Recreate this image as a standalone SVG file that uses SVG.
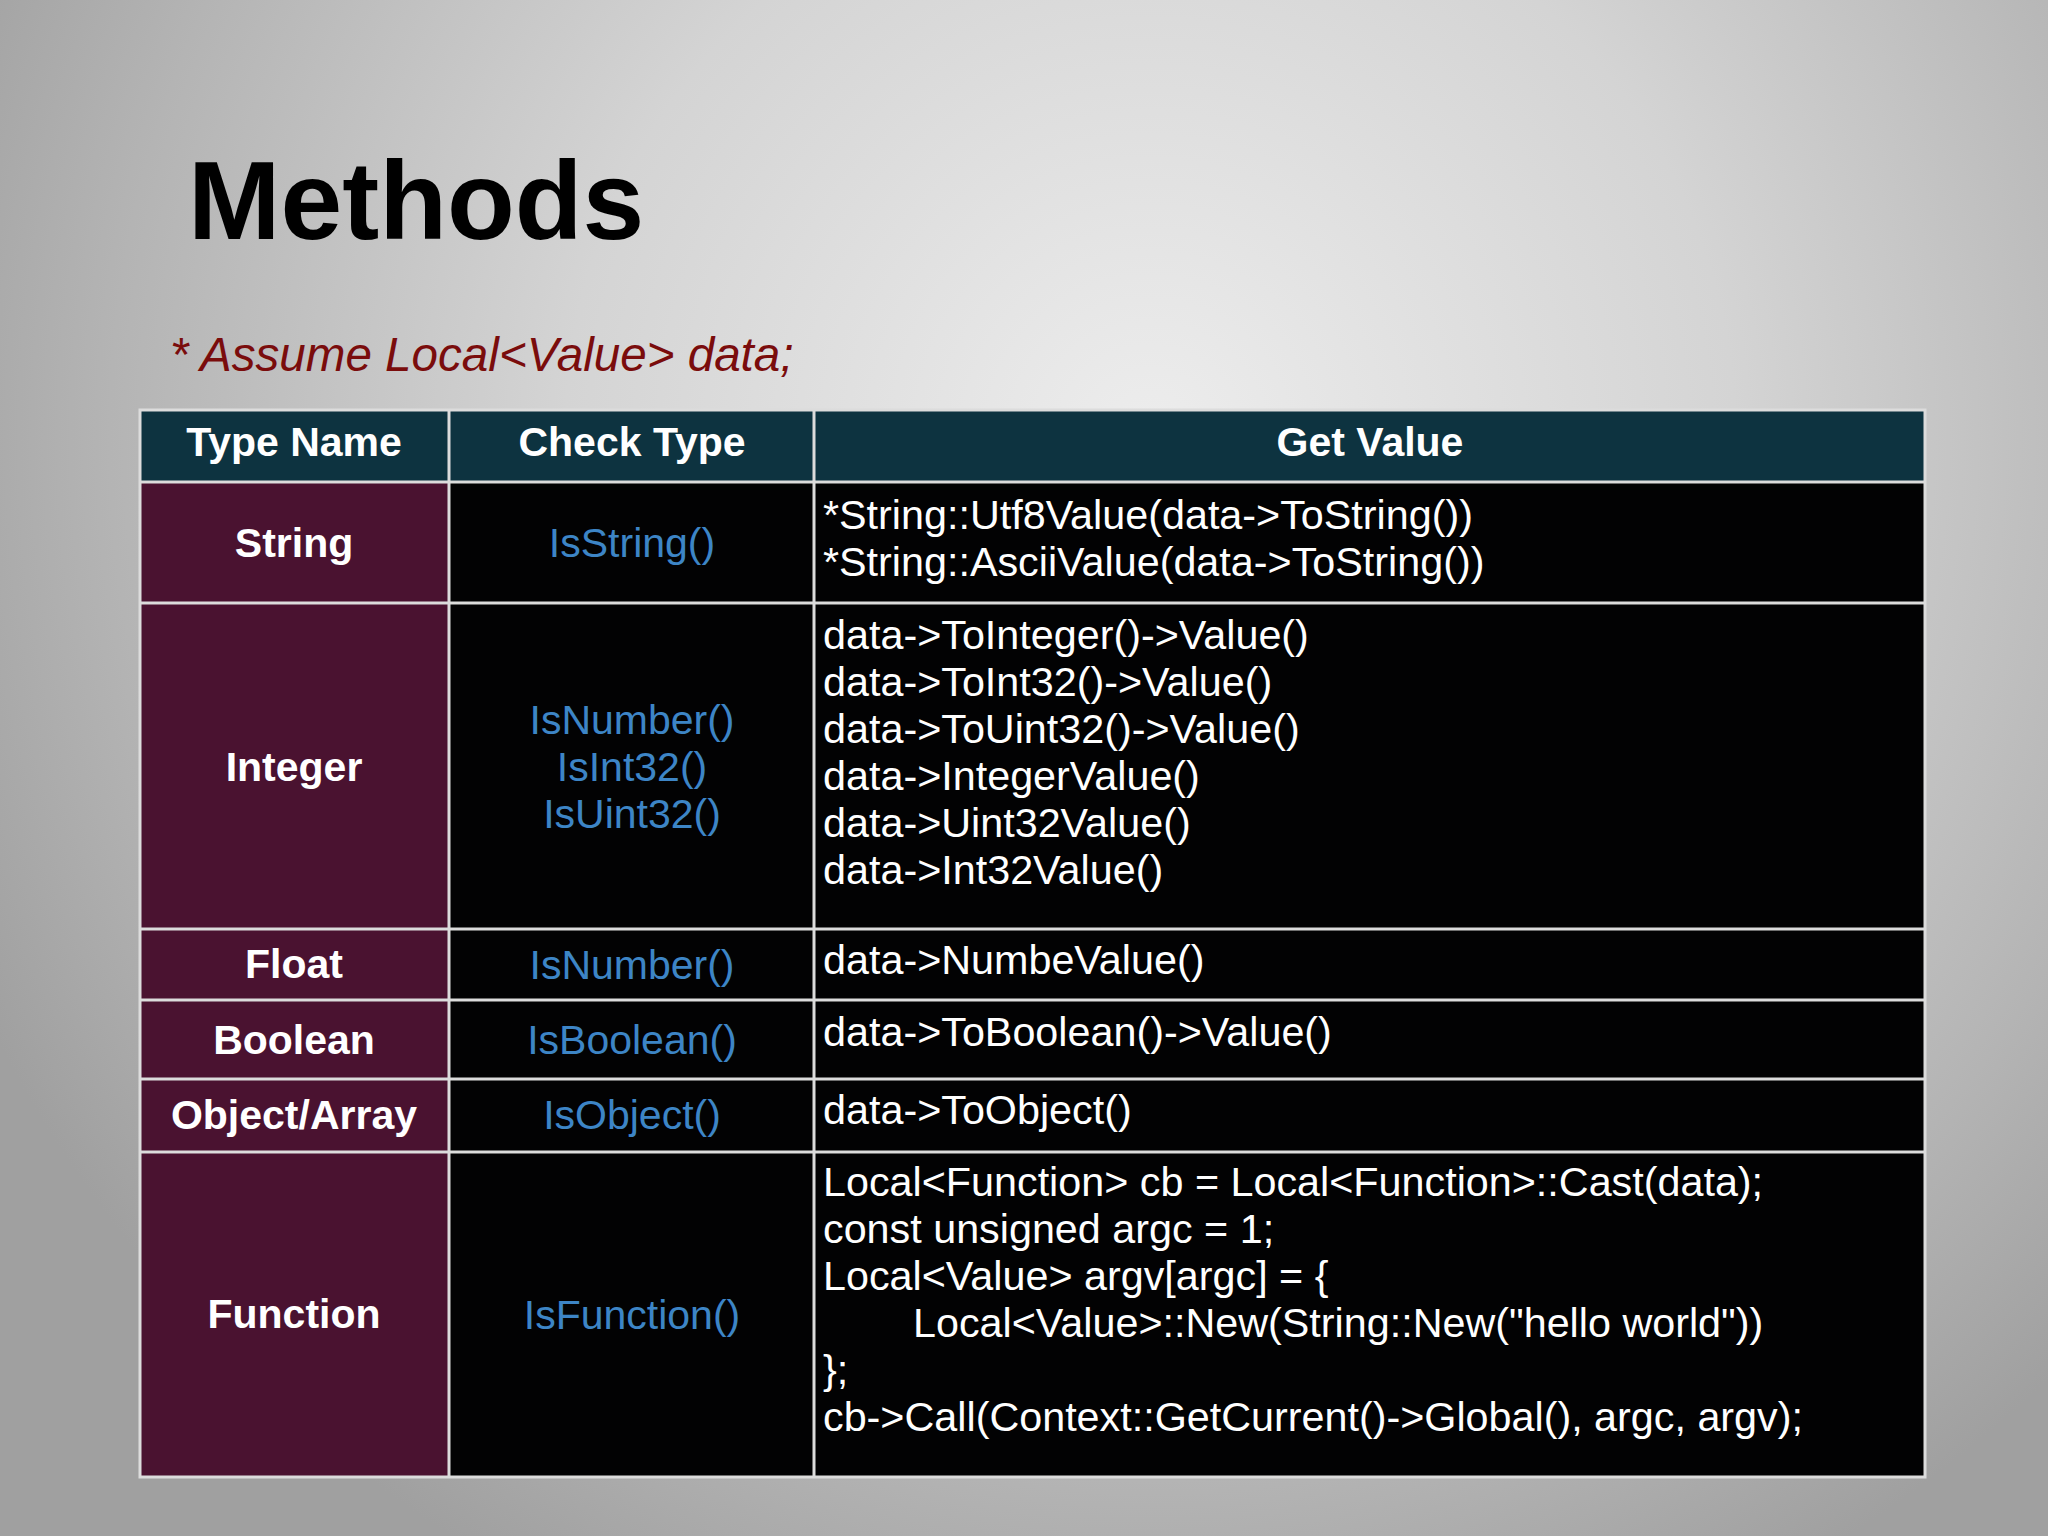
<svg xmlns="http://www.w3.org/2000/svg" width="2048" height="1536" viewBox="0 0 2048 1536">
  <defs>
    <radialGradient id="bg" cx="1150" cy="440" r="1300" gradientUnits="userSpaceOnUse">
      <stop offset="0" stop-color="#ededed"/>
      <stop offset="0.45" stop-color="#d4d4d4"/>
      <stop offset="0.8" stop-color="#b4b4b4"/>
      <stop offset="1" stop-color="#a0a0a0"/>
    </radialGradient>
    <style>
      .title { font-family: "Liberation Sans", Arial, sans-serif; font-weight: bold; font-size: 111px; fill: #000; }
      .sub { font-family: "Liberation Sans", Arial, sans-serif; font-style: italic; font-size: 47.6px; fill: #7a0c0c; }
      .hdr { fill: #0d3340; }
      .tn { fill: #4a1230; }
      .blk { fill: #020203; }
      .hd { font-family: "Liberation Sans", Arial, sans-serif; font-weight: bold; font-size: 41px; fill: #ffffff; text-anchor: middle; }
      .chk { font-family: "Liberation Sans", Arial, sans-serif; font-size: 41px; fill: #3d85c6; text-anchor: middle; }
      .val { font-family: "Liberation Sans", Arial, sans-serif; font-size: 41.3px; fill: #ffffff; }
      .grid { stroke: #dcdcdc; stroke-width: 3; fill: none; }
    </style>
  </defs>
  <rect x="0" y="0" width="2048" height="1536" fill="url(#bg)"/>

  <text class="title" x="188" y="239">Methods</text>
  <text class="sub" x="170" y="371">* Assume Local&lt;Value&gt; data;</text>

  <g id="table">
    <g id="header">
      <rect class="hdr" x="140" y="410" width="1785" height="72"/>
      <text class="hd" x="294" y="456">Type Name</text>
      <text class="hd" x="632" y="456">Check Type</text>
      <text class="hd" x="1370" y="456">Get Value</text>
    </g>

    <g id="row-string">
      <rect class="tn" x="140" y="482" width="309" height="121"/>
      <rect class="blk" x="449" y="482" width="1476" height="121"/>
      <text class="hd" x="294" y="557">String</text>
      <text class="chk" x="632" y="557">IsString()</text>
      <text class="val" x="823" y="529">*String::Utf8Value(data-&gt;ToString())</text>
      <text class="val" x="823" y="576">*String::AsciiValue(data-&gt;ToString())</text>
    </g>

    <g id="row-integer">
      <rect class="tn" x="140" y="603" width="309" height="326"/>
      <rect class="blk" x="449" y="603" width="1476" height="326"/>
      <text class="hd" x="294" y="781">Integer</text>
      <text class="chk" x="632" y="734">IsNumber()</text>
      <text class="chk" x="632" y="781">IsInt32()</text>
      <text class="chk" x="632" y="828">IsUint32()</text>
      <text class="val" x="823" y="649">data-&gt;ToInteger()-&gt;Value()</text>
      <text class="val" x="823" y="696">data-&gt;ToInt32()-&gt;Value()</text>
      <text class="val" x="823" y="743">data-&gt;ToUint32()-&gt;Value()</text>
      <text class="val" x="823" y="790">data-&gt;IntegerValue()</text>
      <text class="val" x="823" y="837">data-&gt;Uint32Value()</text>
      <text class="val" x="823" y="884">data-&gt;Int32Value()</text>
    </g>

    <g id="row-float">
      <rect class="tn" x="140" y="929" width="309" height="71"/>
      <rect class="blk" x="449" y="929" width="1476" height="71"/>
      <text class="hd" x="294" y="978">Float</text>
      <text class="chk" x="632" y="979">IsNumber()</text>
      <text class="val" x="823" y="974">data-&gt;NumbeValue()</text>
    </g>

    <g id="row-boolean">
      <rect class="tn" x="140" y="1000" width="309" height="79"/>
      <rect class="blk" x="449" y="1000" width="1476" height="79"/>
      <text class="hd" x="294" y="1054">Boolean</text>
      <text class="chk" x="632" y="1054">IsBoolean()</text>
      <text class="val" x="823" y="1046">data-&gt;ToBoolean()-&gt;Value()</text>
    </g>

    <g id="row-object">
      <rect class="tn" x="140" y="1079" width="309" height="73"/>
      <rect class="blk" x="449" y="1079" width="1476" height="73"/>
      <text class="hd" x="294" y="1129">Object/Array</text>
      <text class="chk" x="632" y="1129">IsObject()</text>
      <text class="val" x="823" y="1124">data-&gt;ToObject()</text>
    </g>

    <g id="row-function">
      <rect class="tn" x="140" y="1152" width="309" height="325"/>
      <rect class="blk" x="449" y="1152" width="1476" height="325"/>
      <text class="hd" x="294" y="1328">Function</text>
      <text class="chk" x="632" y="1329">IsFunction()</text>
      <text class="val" x="823" y="1196">Local&lt;Function&gt; cb = Local&lt;Function&gt;::Cast(data);</text>
      <text class="val" x="823" y="1243">const unsigned argc = 1;</text>
      <text class="val" x="823" y="1290">Local&lt;Value&gt; argv[argc] = {</text>
      <text class="val" x="913" y="1337">Local&lt;Value&gt;::New(String::New("hello world"))</text>
      <text class="val" x="823" y="1384">};</text>
      <text class="val" x="823" y="1431">cb-&gt;Call(Context::GetCurrent()-&gt;Global(), argc, argv);</text>
    </g>

    <g id="grid">
      <rect class="grid" x="140" y="410" width="1785" height="1067"/>
      <path class="grid" d="M449 410V1477M814 410V1477M140 482H1925M140 603H1925M140 929H1925M140 1000H1925M140 1079H1925M140 1152H1925"/>
    </g>
  </g>
</svg>
